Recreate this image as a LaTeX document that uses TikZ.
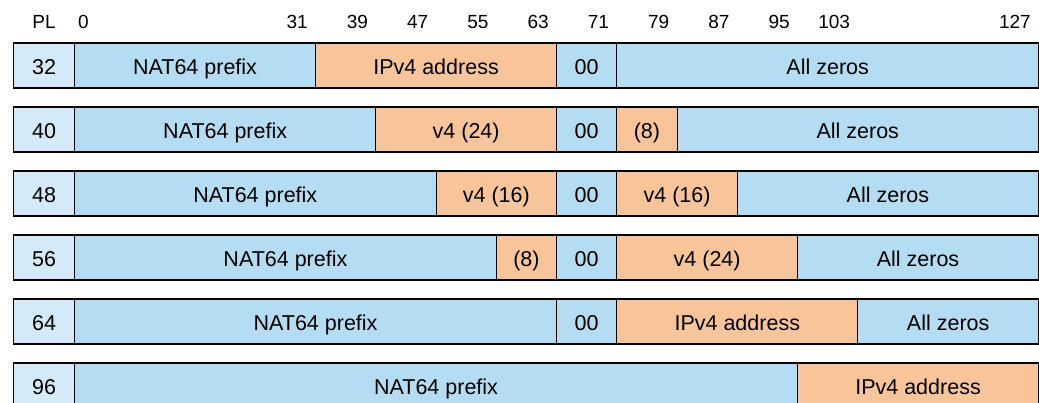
\documentclass[tikz,border=0pt]{standalone}
\usepackage{fontspec}
\setmainfont{Liberation Sans}
\usetikzlibrary{positioning,calc}
\definecolor{fieldblue}{RGB}{180,220,243}
\definecolor{plblue}{RGB}{212,234,249}
\definecolor{vfour}{RGB}{248,197,155}

\tikzset{
  field/.style={draw, line width=1.1pt, inner sep=0pt, minimum height=45pt, anchor=west,
    font=\fontsize{21.5}{24}\selectfont, text height=18.5pt, text depth=0pt},
  pfx/.style={field, fill=fieldblue},
  addr/.style={field, fill=vfour},
  plbox/.style={field, fill=plblue},
  bitlbl/.style={font=\fontsize{19}{22}\selectfont, inner sep=0pt}
}

\begin{document}
\begin{tikzpicture}[x=1pt, y=-1pt]
  \useasboundingbox (0,0) rectangle (1039,403);

  % Bit numbers
  \node[bitlbl] (hpl) at (44,22) {PL};
  \node[bitlbl, anchor=west] (h0) at (78,22) {0};
  \foreach \b in {31,39,47,55,63,71,79,87,95,103,127}{
    \pgfmathsetmacro{\xb}{74+7.53125*(\b+1)-7}
    \node[bitlbl, anchor=east] (h\b) at (\xb,22) {\b};
  }

  % Prefix lengths
  \foreach \r/\pl in {1/32,2/40,3/48,4/56,5/64,6/96}{
    \pgfmathsetmacro{\yr}{65.5+64*(\r-1)}
    \node[plbox, minimum width=61pt] (pl\r) at (13,\yr) {\pl};
  }

  % Fields: row/start/end/style/text
  \foreach \r/\a/\e/\s/\t in {
      1/0/32/pfx/NAT64 prefix, 1/32/64/addr/IPv4 address, 1/64/72/pfx/00, 1/72/128/pfx/All zeros,
      2/0/40/pfx/NAT64 prefix, 2/40/64/addr/v4 (24), 2/64/72/pfx/00, 2/72/80/addr/(8), 2/80/128/pfx/All zeros,
      3/0/48/pfx/NAT64 prefix, 3/48/64/addr/v4 (16), 3/64/72/pfx/00, 3/72/88/addr/v4 (16), 3/88/128/pfx/All zeros,
      4/0/56/pfx/NAT64 prefix, 4/56/64/addr/(8), 4/64/72/pfx/00, 4/72/96/addr/v4 (24), 4/96/128/pfx/All zeros,
      5/0/64/pfx/NAT64 prefix, 5/64/72/pfx/00, 5/72/104/addr/IPv4 address, 5/104/128/pfx/All zeros,
      6/0/96/pfx/NAT64 prefix, 6/96/128/addr/IPv4 address}{
    \pgfmathsetmacro{\xa}{74+7.53125*\a}
    \pgfmathsetmacro{\fw}{7.53125*(\e-\a)}
    \pgfmathsetmacro{\yr}{65.5+64*(\r-1)}
    \node[\s, minimum width=\fw pt] (f\r-\a) at (\xa,\yr) {\t};
  }
\end{tikzpicture}
\end{document}
